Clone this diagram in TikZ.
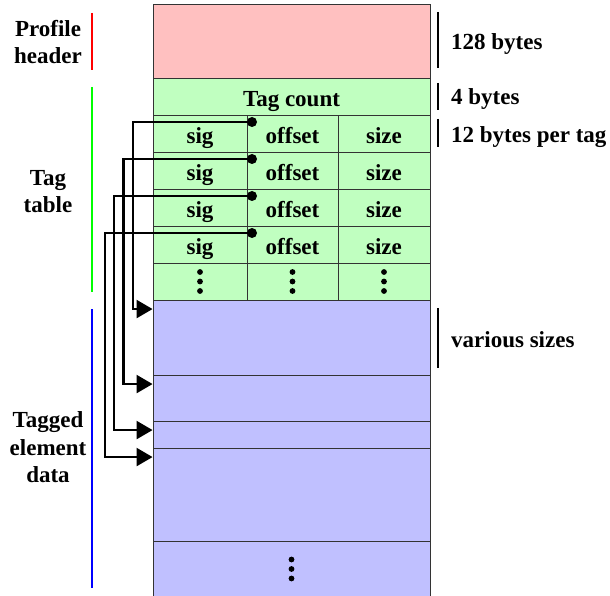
\documentclass[tikz,border=0pt]{standalone}
\usepackage{fontspec}
\setmainfont{Liberation Serif}
\usetikzlibrary{positioning, arrows.meta, calc}
\definecolor{hdrpink}{HTML}{FFC0C0}
\definecolor{tabgreen}{HTML}{C0FFC0}
\definecolor{datblue}{HTML}{C0C0FF}

\begin{document}
\begin{tikzpicture}[x=1pt, y=-1pt, font=\fontsize{23}{27.5}\selectfont\bfseries,
  cell/.style={draw=black!80, line width=0.9pt, inner sep=0pt},
  tagcell/.style={cell, fill=tabgreen, minimum height=37pt, text height=20pt, text depth=0.4pt},
  datcell/.style={cell, fill=datblue, minimum width=277pt},
  pdot/.style={circle, fill=black, inner sep=0pt, minimum size=10pt},
  ptr/.style={line width=2.3pt, -{Triangle[length=16pt, width=18pt]}},
  sidebar/.style={line width=2.2pt},
  sidelabel/.style={align=center},
  sizelabel/.style={anchor=west, inner sep=0pt}]
\useasboundingbox (0,0) rectangle (610,596);
% profile header
\node[cell, fill=hdrpink, minimum width=277pt, minimum height=74pt] (hdr) at (291.5,41) {};
% tag table
\node[tagcell, minimum width=277pt] (cnt) at (291.5,96.5) {Tag count};
\foreach \i in {1,...,4} {
  \pgfmathsetmacro\yc{115+37*(\i-1)+18.5}
  \node[tagcell, minimum width=94pt] (sig\i) at (200,\yc) {sig};
  \node[tagcell, minimum width=91pt] (off\i) at (292.5,\yc) {offset};
  \node[tagcell, minimum width=92pt] (siz\i) at (384,\yc) {size};
}
\node[tagcell, minimum width=94pt] (dsig) at (200,281.5) {};
\node[tagcell, minimum width=91pt] (doff) at (292.5,281.5) {};
\node[tagcell, minimum width=92pt] (dsiz) at (384,281.5) {};
% tagged element data
\node[datcell, minimum height=75pt] (d1) at (291.5,337.5) {};
\node[datcell, minimum height=46pt] (d2) at (291.5,398) {};
\node[datcell, minimum height=27pt] (d3) at (291.5,434.5) {};
\node[datcell, minimum height=93pt] (d4) at (291.5,494.5) {};
\node[datcell, minimum height=56pt] (d5) at (291.5,569) {};
% continuation dots
\foreach \c in {dsig,doff,dsiz,d5}
  \foreach \k in {-9.5,0,9.5}
    \fill ([yshift=\k pt]\c.center) circle (2.9pt);
% offset pointers
\foreach \i/\cx in {1/133,2/123.5,3/114,4/105} {
  \node[pdot] (p\i) at (252,{122+37*(\i-1)}) {};
  \draw[ptr] (p\i.center) -- (\cx,{122+37*(\i-1)}) |- ([yshift=-9.5pt]d\i.north west);
}
% left brackets and labels
\draw[sidebar, red] (92,13) -- (92,70);
\draw[sidebar, green] (92,87) -- (92,292);
\draw[sidebar, blue] (92,309) -- (92,588);
\node[sidelabel] (lblhdr) at (48,42) {Profile\\header};
\node[sidelabel] (lbltab) at (48,191.5) {Tag\\table};
\node[sidelabel] (lbldat) at (48,447.5) {Tagged\\element\\data};
% right brackets and sizes
\draw[sidebar] (438,12) -- (438,68);
\draw[sidebar] (438,83) -- (438,110);
\draw[sidebar] (438,119) -- (438,147);
\draw[sidebar] (438,308) -- (438,368);
\node[sizelabel] (sz128) at (451,44.5) {128 bytes};
\node[sizelabel] (sz4) at (451,99.5) {4 bytes};
\node[sizelabel] (sz12) at (451,137.5) {12 bytes per tag};
\node[sizelabel] (szvar) at (451,339.5) {various sizes};
\end{tikzpicture}
\end{document}
